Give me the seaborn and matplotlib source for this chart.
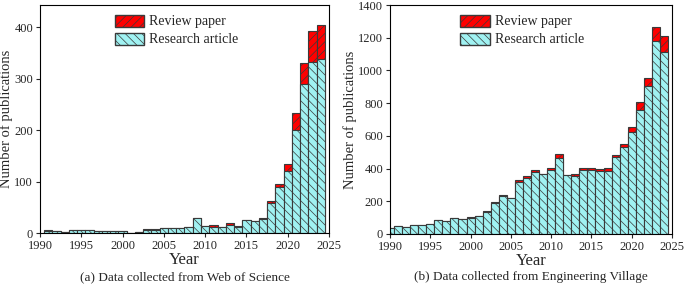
import matplotlib
matplotlib.use("Agg")
import matplotlib.pyplot as plt
from matplotlib.patches import Patch
import numpy as np
import pandas as pd
import seaborn as sns

# (a) Web of Science
years_wos = list(range(1991, 2025))
research_wos = [3, 4, 2, 5, 5, 6, 4, 3, 3, 3, 0, 1, 6, 6, 10, 9, 10, 12, 30, 13,
                12, 12, 16, 11, 26, 24, 27, 58, 89, 121, 201, 290, 333, 338]
review_wos = [2, 0, 0, 0, 0, 0, 0, 0, 0, 0, 0, 0, 2, 2, 0, 0, 0, 0, 0, 0,
              3, 0, 3, 3, 0, 0, 3, 4, 6, 13, 32, 40, 59, 67]

# (b) Engineering Village
years_ev = list(range(1990, 2025))
research_ev = [35, 48, 43, 55, 58, 62, 85, 80, 97, 92, 97, 113, 133, 187, 232, 222,
               320, 342, 380, 365, 392, 465, 362, 352, 390, 392, 385, 388, 468, 530,
               623, 760, 905, 1180, 1113]
review_ev = [0, 0, 0, 0, 0, 0, 0, 0, 0, 0, 7, 0, 7, 10, 5, 0,
             10, 10, 13, 0, 11, 25, 0, 16, 12, 10, 13, 14, 16, 18,
             29, 48, 48, 88, 97]

RESEARCH_COLOR = "#a0f2f2"
REVIEW_COLOR = "#ff0000"
EDGE = "#3a3a3a"


def draw_panel(ax, years, research, review, ylim, yticks, legend_x):
    total = [a + b for a, b in zip(research, review)]
    n0 = len(ax.patches)
    sns.barplot(x=years, y=total, native_scale=True, width=1, color=REVIEW_COLOR,
                saturation=1, edgecolor=EDGE, linewidth=0.8, errorbar=None, ax=ax)
    for p in ax.patches[n0:]:
        p.set_hatch("////")
    n1 = len(ax.patches)
    sns.barplot(x=years, y=research, native_scale=True, width=1, color=RESEARCH_COLOR,
                saturation=1, edgecolor=EDGE, linewidth=0.8, errorbar=None, ax=ax)
    for p in ax.patches[n1:]:
        p.set_hatch("\\\\\\\\")

    ax.set_xlim(1990, 2025)
    ax.set_xticks(range(1990, 2026, 5))
    ax.set_ylim(*ylim)
    ax.set_yticks(yticks)
    ax.set_xlabel("Year", fontsize=12, labelpad=0)
    ax.set_ylabel("Number of publications", fontsize=10.5, labelpad=1)
    ax.tick_params(direction="out", length=3, width=0.8, labelsize=9, pad=2)
    for s in ax.spines.values():
        s.set_visible(True)
        s.set_color("black")
        s.set_linewidth(0.8)

    handles = [
        Patch(facecolor=REVIEW_COLOR, edgecolor=EDGE, hatch="////", label="Review paper"),
        Patch(facecolor=RESEARCH_COLOR, edgecolor=EDGE, hatch="\\\\\\\\", label="Research article"),
    ]
    ax.legend(handles=handles, loc="upper left", bbox_to_anchor=(legend_x, 1.0),
              frameon=False, fontsize=10, handlelength=2.1, handleheight=0.95,
              handletextpad=0.4, labelspacing=0.3, borderpad=0.2)


sns.set_style("ticks")
plt.rcParams["font.family"] = ["Liberation Serif", "DejaVu Serif"]
plt.rcParams["hatch.linewidth"] = 0.5
plt.rcParams["hatch.color"] = "#222222"

fig = plt.figure(figsize=(6.85, 2.85), dpi=100)
ax1 = fig.add_axes([40 / 685, 52 / 285, 289 / 685, 228 / 285])
ax2 = fig.add_axes([390 / 685, 51 / 285, 282 / 685, 229 / 285])

draw_panel(ax1, years_wos, research_wos, review_wos, (0, 443), [0, 100, 200, 300, 400], 0.225)
draw_panel(ax2, years_ev, research_ev, review_ev, (0, 1400), list(range(0, 1401, 200)), 0.215)

fig.text(185 / 685, 1 - 277 / 285, "(a) Data collected from Web of Science",
         ha="center", va="center", fontsize=9.5)
fig.text(531 / 685, 1 - 277 / 285, "(b) Data collected from Engineering Village",
         ha="center", va="center", fontsize=9.5)

fig.savefig("out.png", dpi=100)
